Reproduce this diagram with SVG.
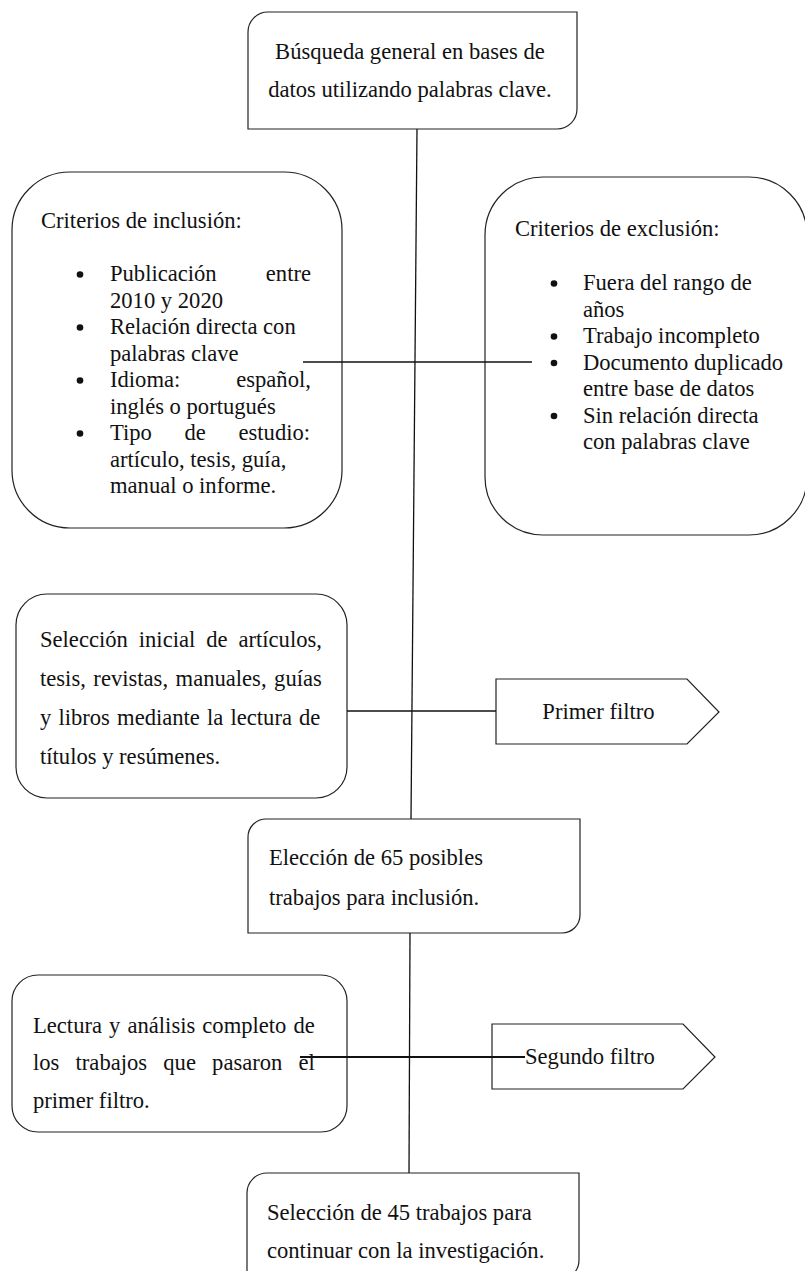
<svg xmlns="http://www.w3.org/2000/svg" width="805" height="1271" viewBox="0 0 805 1271">
<style>
.box{fill:#fff;stroke:#222;stroke-width:1.2}
.ln{fill:none;stroke:#111;stroke-width:1.3}
.t{font-family:"Liberation Serif","Times New Roman",serif;font-size:22.6px;fill:#111}
.dot{fill:#111}
</style>
<rect width="805" height="1271" fill="#fff"/>
<g id="n1">
<path class="box" d="M268,12 H577 V109 A20,20 0 0 1 557,129 H248 V32 A20,20 0 0 1 268,12 Z"/>
<text class="t" text-anchor="middle"><tspan x="410" y="59">Búsqueda general en bases de</tspan><tspan x="410" y="97">datos utilizando palabras clave.</tspan></text>
</g>
<g id="n2">
<rect class="box" x="12" y="172" width="330" height="356" rx="58" ry="58"/>
<text class="t" x="41" y="228">Criterios de inclusión:</text>
<circle class="dot" cx="80" cy="274.5" r="3.3"/>
<circle class="dot" cx="80" cy="327.5" r="3.3"/>
<circle class="dot" cx="80" cy="380.5" r="3.3"/>
<circle class="dot" cx="80" cy="433.5" r="3.3"/>
<text class="t"><tspan x="110" y="281" word-spacing="43.5">Publicación entre</tspan><tspan x="110" y="307.5">2010 y 2020</tspan></text>
<text class="t"><tspan x="110" y="334">Relación directa con</tspan><tspan x="110" y="360.5">palabras clave</tspan></text>
<text class="t"><tspan x="110" y="387" word-spacing="50.3">Idioma: español,</tspan><tspan x="110" y="413.5">inglés o portugués</tspan></text>
<text class="t"><tspan x="110" y="440" word-spacing="27">Tipo de estudio:</tspan><tspan x="110" y="466.5">artículo, tesis, guía,</tspan><tspan x="110" y="493">manual o informe.</tspan></text>
</g>
<g id="n3">
<rect class="box" x="485" y="177" width="322" height="358" rx="58" ry="58"/>
<text class="t" x="515" y="236">Criterios de exclusión:</text>
<circle class="dot" cx="554" cy="283.5" r="3.3"/>
<circle class="dot" cx="554" cy="336.5" r="3.3"/>
<circle class="dot" cx="554" cy="363" r="3.3"/>
<circle class="dot" cx="554" cy="416" r="3.3"/>
<text class="t"><tspan x="583" y="290">Fuera del rango de</tspan><tspan x="583" y="316.5">años</tspan></text>
<text class="t" x="583" y="343">Trabajo incompleto</text>
<text class="t"><tspan x="583" y="369.5">Documento duplicado</tspan><tspan x="583" y="396">entre base de datos</tspan></text>
<text class="t"><tspan x="583" y="422.5">Sin relación directa</tspan><tspan x="583" y="449">con palabras clave</tspan></text>
</g>
<g id="n4">
<rect class="box" x="16" y="594" width="331" height="204" rx="31" ry="31"/>
<text class="t"><tspan x="40" y="647" word-spacing="5.3">Selección inicial de artículos,</tspan><tspan x="40" y="686" word-spacing="1.9">tesis, revistas, manuales, guías</tspan><tspan x="40" y="725" word-spacing="1.5">y libros mediante la lectura de</tspan><tspan x="40" y="764">títulos y resúmenes.</tspan></text>
</g>
<g id="n5">
<path class="box" d="M496,679 H687 L719,712 L687,744 H496 Z"/>
<text class="t" x="598.5" y="719" text-anchor="middle">Primer filtro</text>
</g>
<g id="n6">
<path class="box" d="M266,819 H580 V915 A18,18 0 0 1 562,933 H248 V837 A18,18 0 0 1 266,819 Z"/>
<text class="t"><tspan x="269" y="865">Elección de 65 posibles</tspan><tspan x="269" y="905">trabajos para inclusión.</tspan></text>
</g>
<g id="n7">
<rect class="box" x="12" y="975" width="335" height="157" rx="26" ry="26"/>
<text class="t"><tspan x="33" y="1033" word-spacing="1.45">Lectura y análisis completo de</tspan><tspan x="33" y="1070" word-spacing="10.55">los trabajos que pasaron el</tspan><tspan x="33" y="1108">primer filtro.</tspan></text>
</g>
<g id="n8">
<path class="box" d="M492,1024 H683 L715,1057 L683,1089 H492 Z"/>
<text class="t" x="525" y="1064">Segundo filtro</text>
</g>
<g id="n9">
<path class="box" d="M267,1173 H579 V1260 A20,20 0 0 1 559,1280 H247 V1193 A20,20 0 0 1 267,1173 Z"/>
<text class="t"><tspan x="267" y="1220">Selección de 45 trabajos para</tspan><tspan x="267" y="1258">continuar con la investigación.</tspan></text>
</g>
<g id="connectors">
<line class="ln" x1="417" y1="129" x2="411" y2="819"/>
<line class="ln" x1="410" y1="933" x2="409" y2="1173"/>
<line class="ln" x1="303" y1="362" x2="532" y2="362"/>
<line class="ln" x1="347" y1="711" x2="496" y2="711"/>
<line class="ln" x1="300" y1="1057" x2="525" y2="1057" style="stroke-width:2"/>
</g>
</svg>
